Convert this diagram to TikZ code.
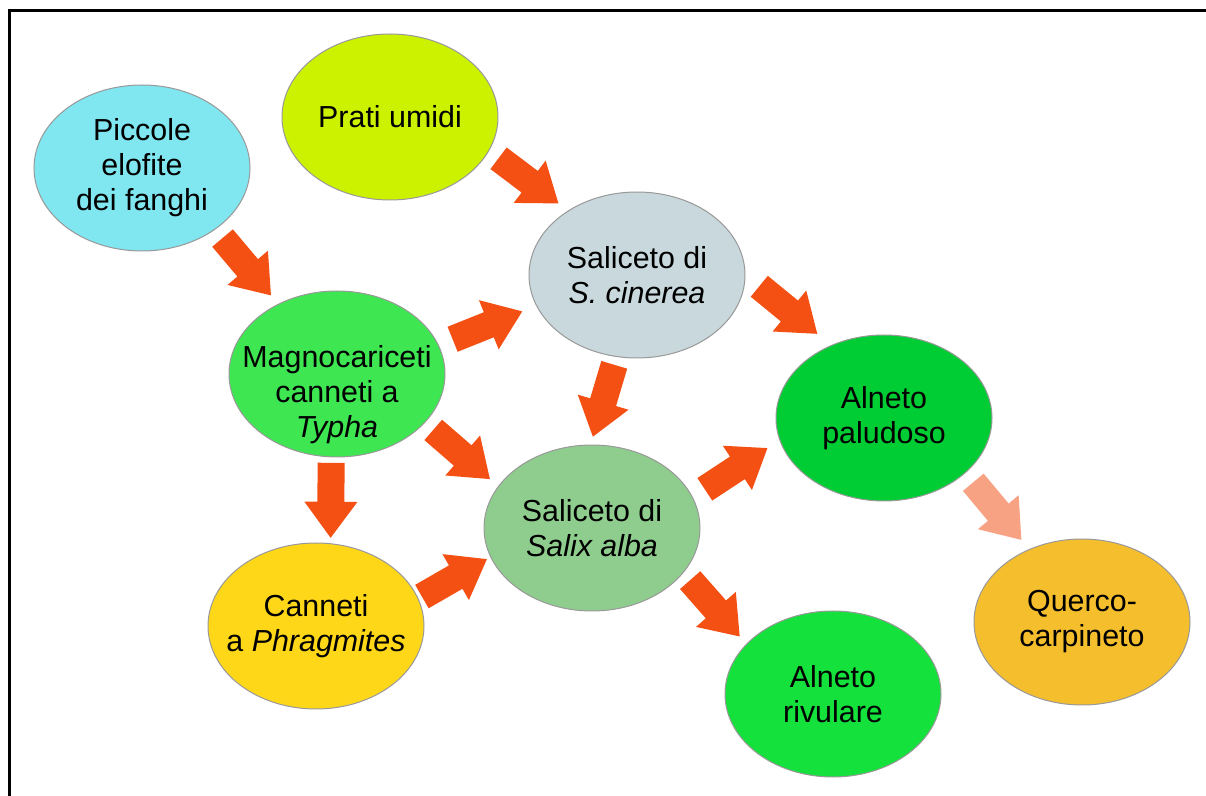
\documentclass[tikz,border=0pt]{standalone}
\usepackage{fontspec}
\setmainfont{Liberation Sans}
\usetikzlibrary{calc,shapes.geometric}
\definecolor{cPiccole}{RGB}{128,230,240}
\definecolor{cPrati}{RGB}{204,242,0}
\definecolor{cScin}{RGB}{200,216,220}
\definecolor{cMagno}{RGB}{62,230,82}
\definecolor{cPalud}{RGB}{0,204,51}
\definecolor{cSalix}{RGB}{142,205,142}
\definecolor{cCanneti}{RGB}{255,215,25}
\definecolor{cRivul}{RGB}{20,225,60}
\definecolor{cQuerco}{RGB}{245,190,45}
\definecolor{arrowred}{RGB}{245,80,20}
\definecolor{arrowlight}{RGB}{248,162,132}
\newcommand\blockarr[3][arrowred]{%
  \path let \p1=(#2), \p2=(#3),
    \n1={atan2(\y2-\y1,\x2-\x1)},
    \p3=($(\p1)!.5!(\p2)$) in
    \pgfextra{\xdef\baang{\n1}\xdef\bamx{\x3}\xdef\bamy{\y3}};
  \fill[#1, shift={(\bamx,\bamy)}, rotate=\baang]
    (-18.75pt,-6.75pt) -- (0.75pt,-6.75pt) -- (0.75pt,-13.25pt) --
    (18.75pt,0pt) -- (0.75pt,13.25pt) -- (0.75pt,6.75pt) --
    (-18.75pt,6.75pt) -- cycle;
}
\begin{document}
\begin{tikzpicture}[x=0.5pt,y=-0.5pt,
  elly/.style={ellipse, draw=black!40, line width=0.5pt,
    minimum width=108pt, minimum height=83pt, inner sep=0pt},
  txt/.style={font=\fontsize{15.2}{17.5}\selectfont, align=center, inner sep=0pt}]
\useasboundingbox (0,0) rectangle (1206,796);
\fill[white] (0,0) rectangle (1206,796);
\draw[line width=1.5pt] (9,796) -- (9,11) -- (1206,11);

\node[elly, fill=cPiccole] (piccole) at (142,168) {};
\node[elly, fill=cPrati] (prati) at (390,117) {};
\node[elly, fill=cScin] (scin) at (637,275) {};
\node[elly, fill=cMagno] (magno) at (337,374) {};
\node[elly, fill=cPalud] (paludoso) at (884,418) {};
\node[elly, fill=cSalix] (salix) at (592,528) {};
\node[elly, fill=cCanneti] (canneti) at (316,626) {};
\node[elly, fill=cRivul] (rivulare) at (833,694) {};
\node[elly, fill=cQuerco] (querco) at (1082,622) {};

\node[txt] (piccole-t) at (piccole) {Piccole\\elofite\\dei fanghi};
\node[txt] (prati-t) at (prati) {Prati umidi};
\node[txt] (scin-t) at (scin) {Saliceto di\\\textit{S. cinerea}};
\node[txt] (magno-t) at ([yshift=-10.5pt]magno.center) {Magnocariceti\\canneti a\\\textit{Typha}};
\node[txt] (paludoso-t) at (paludoso) {Alneto\\paludoso};
\node[txt] (salix-t) at (salix) {Saliceto di\\\textit{Salix alba}};
\node[txt] (canneti-t) at (canneti) {Canneti\\a \textit{Phragmites}};
\node[txt] (rivulare-t) at (rivulare) {Alneto\\rivulare};
\node[txt] (querco-t) at (querco) {Querco-\\carpineto};

\blockarr{piccole.-40.8}{magno.130.4}
\blockarr{prati.-19.8}{scin.137.7}
\blockarr{magno.16.1}{scin.197.8}
\blockarr{scin.-104.7}{salix.91.6}
\blockarr{scin.0}{paludoso.126.9}
\blockarr{magno.-29.5}{salix.156}
\blockarr{magno.-94.8}{canneti.80.4}
\blockarr{canneti.15}{salix.196}
\blockarr{salix.17.2}{paludoso.192.6}
\blockarr{salix.-26.4}{rivulare.150}
\blockarr[arrowlight]{paludoso.-34.8}{querco.126.7}
\end{tikzpicture}
\end{document}
